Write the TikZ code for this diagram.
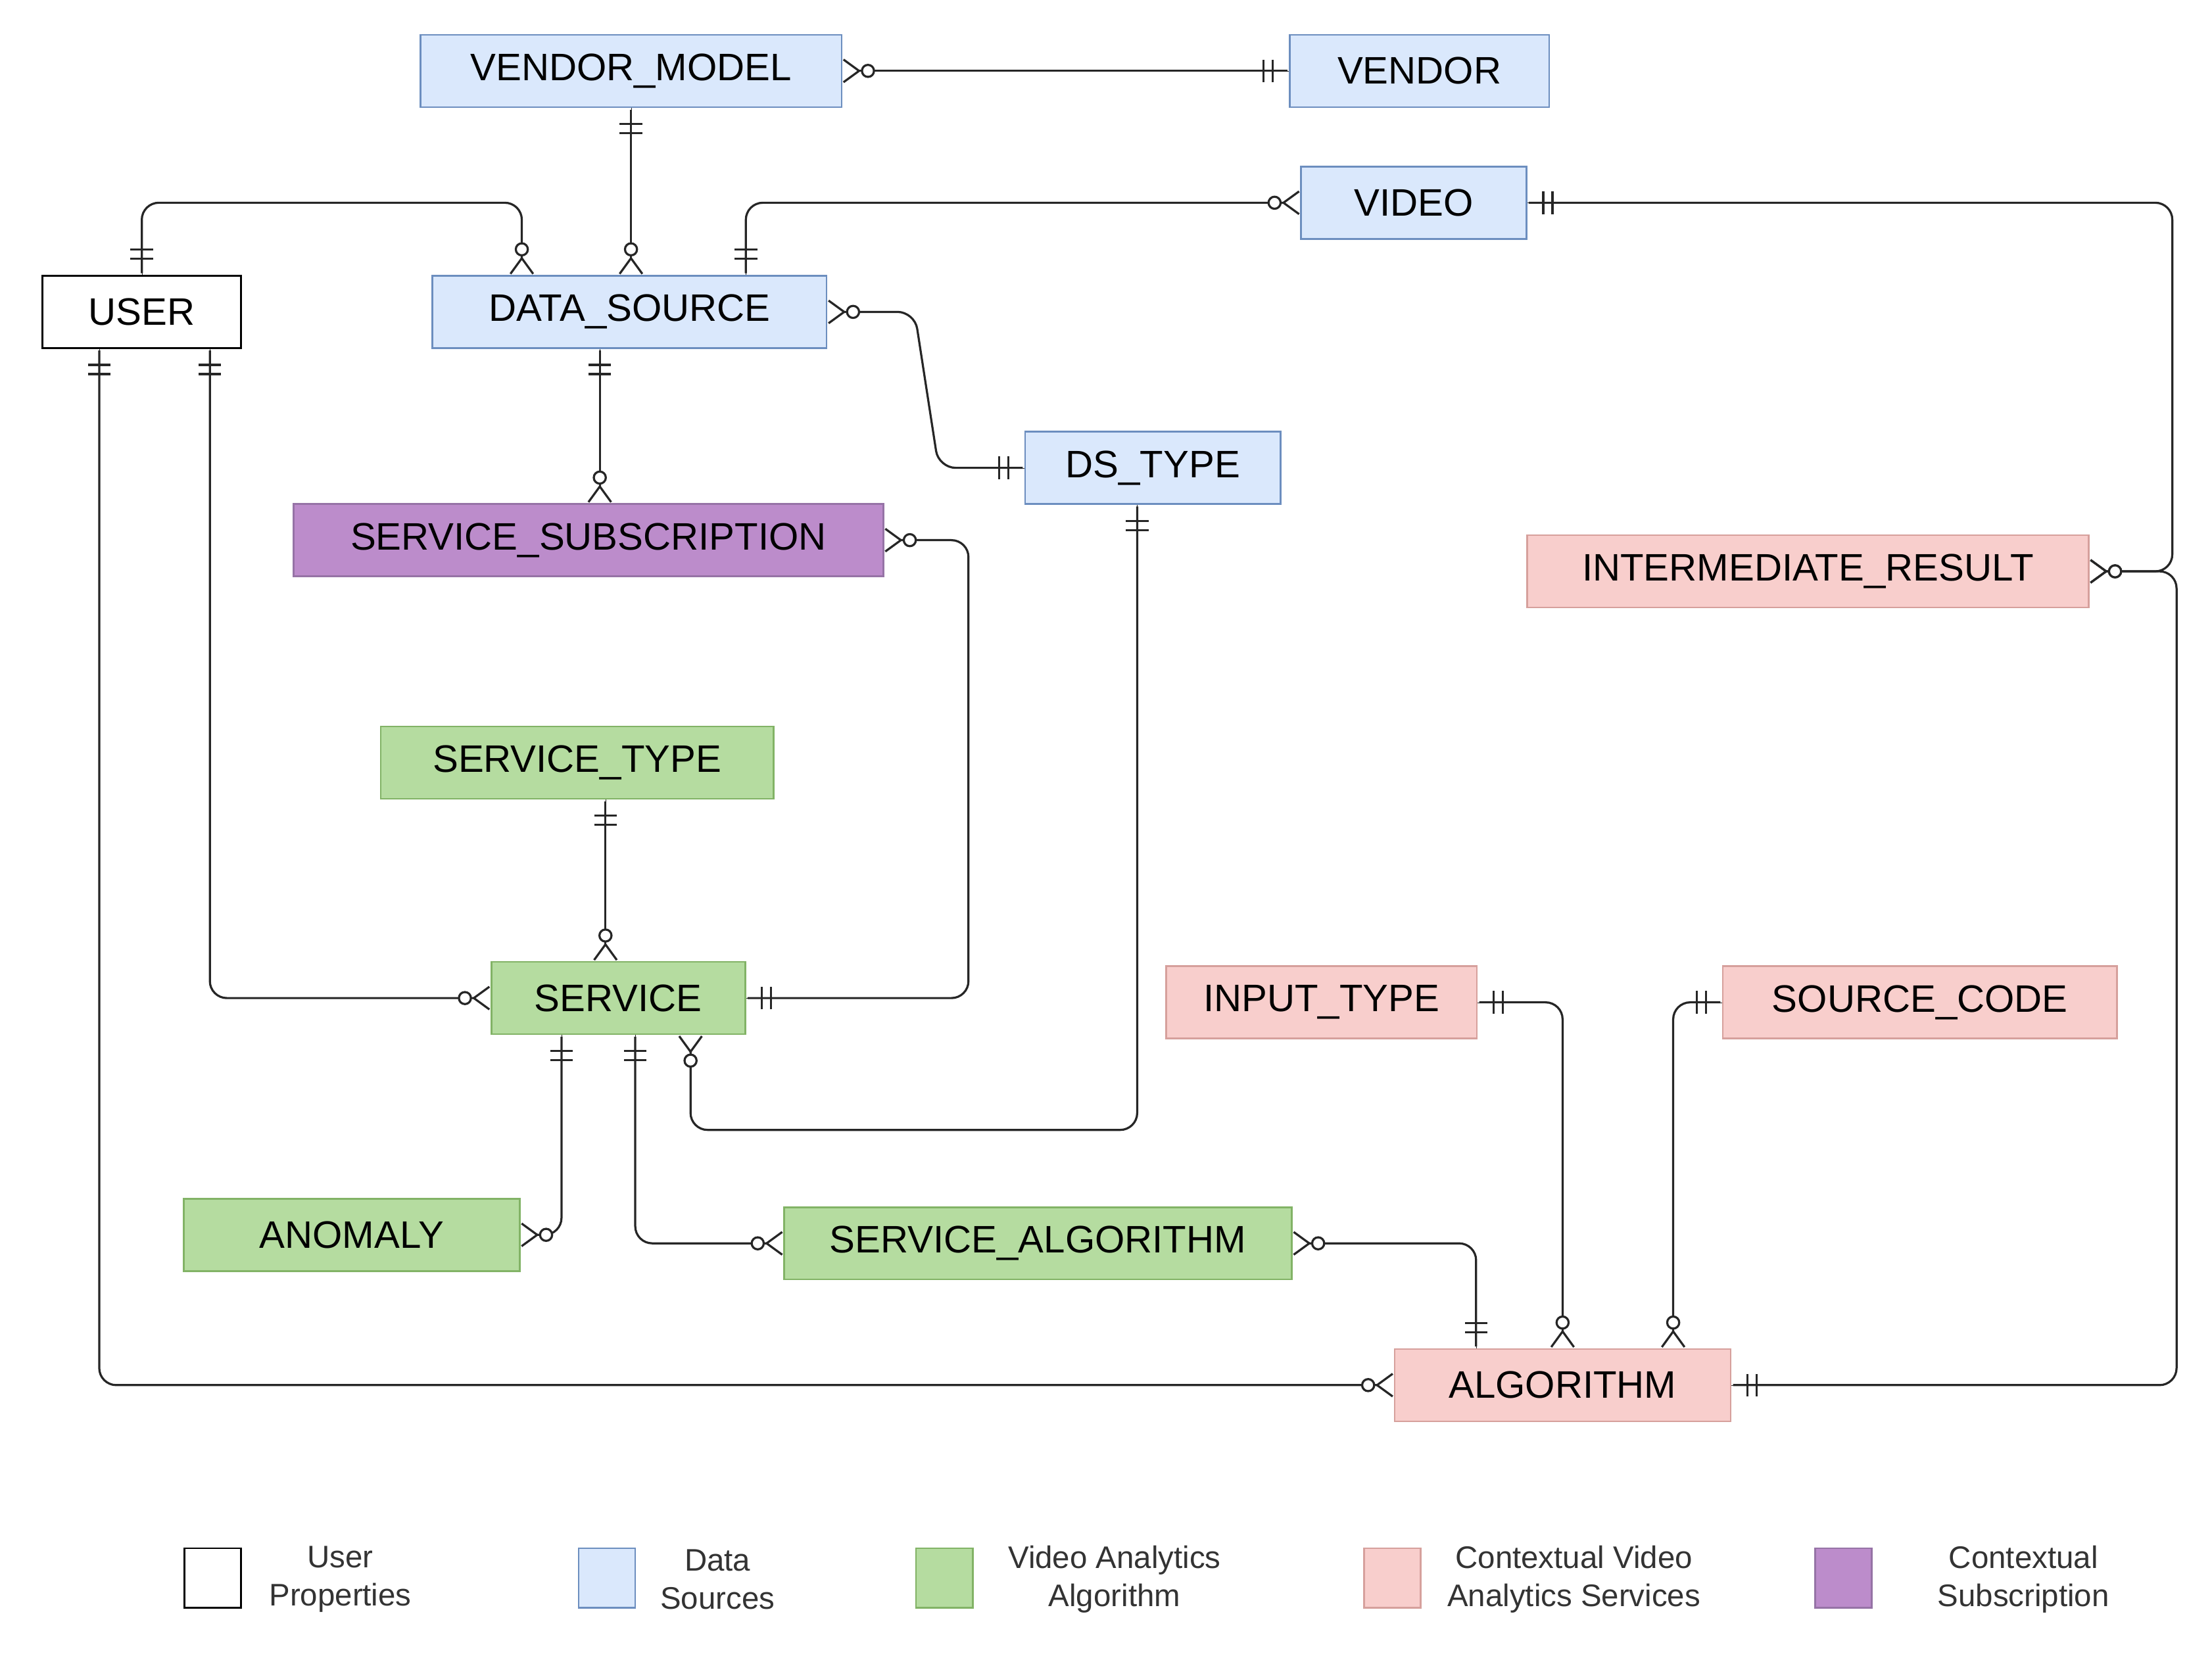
\documentclass[tikz,border=0pt]{standalone}
\usepackage{fontspec}
\setmainfont{Liberation Sans}
\usetikzlibrary{arrows.meta}
\definecolor{bfill}{HTML}{DAE8FC}\definecolor{bdraw}{HTML}{6C8EBF}
\definecolor{gfill}{HTML}{B5DCA0}\definecolor{gdraw}{HTML}{82B366}
\definecolor{pfill}{HTML}{F8CECC}\definecolor{pdraw}{HTML}{D6A09C}
\definecolor{ufill}{HTML}{BC8CCB}\definecolor{udraw}{HTML}{9673A6}
\begin{document}
\begin{tikzpicture}[x=1pt,y=-1pt,
 ent/.style={draw,line width=1.2pt,minimum height=51pt,inner sep=0pt,font=\fontsize{27}{30}\selectfont},
 blue/.style={ent,fill=bfill,draw=bdraw},
 green/.style={ent,fill=gfill,draw=gdraw},
 pink/.style={ent,fill=pfill,draw=pdraw},
 purp/.style={ent,fill=ufill,draw=udraw},
 wht/.style={ent,fill=white,draw=black},
 cn/.style={line width=1.5pt,draw=black!85,rounded corners=12pt},
 lg/.style={draw,line width=1.2pt,minimum width=40pt,minimum height=42pt,inner sep=0pt},
 lt/.style={align=center,font=\fontsize{22}{27}\selectfont,text=black!80},
 mo/.style={{Straight Barb[reversed,length=11pt,width=16pt]Circle[open,length=10pt,fill=white]}-{Bar[width=16pt,sep=5pt]Bar[width=16pt,sep=9pt]Bar[width=.01pt]}},
]
\useasboundingbox (0,0) rectangle (1560,1172);
\node[blue,minimum width=297pt] (vm) at (445,50) {VENDOR\_MODEL};
\node[blue,minimum width=183pt] (ven) at (1001,50) {VENDOR};
\node[blue,minimum width=159pt] (vid) at (997,143) {VIDEO};
\node[wht,minimum width=140pt] (usr) at (100,220) {USER};
\node[blue,minimum width=278pt] (ds) at (444,220) {DATA\_SOURCE};
\node[blue,minimum width=180pt] (dst) at (813,330) {DS\_TYPE};
\node[purp,minimum width=416pt] (ss) at (415,381) {SERVICE\_SUBSCRIPTION};
\node[pink,minimum width=396pt] (ir) at (1275,403) {INTERMEDIATE\_RESULT};
\node[green,minimum width=277pt] (st) at (407,538) {SERVICE\_TYPE};
\node[green,minimum width=179pt] (svc) at (436,704) {SERVICE};
\node[pink,minimum width=219pt] (it) at (932,707) {INPUT\_TYPE};
\node[pink,minimum width=278pt] (sc) at (1354,707) {SOURCE\_CODE};
\node[green,minimum width=237pt] (an) at (248,871) {ANOMALY};
\node[green,minimum width=358pt] (sa) at (732,877) {SERVICE\_ALGORITHM};
\node[pink,minimum width=237pt] (alg) at (1102,977) {ALGORITHM};

\draw[cn,mo] (vm.east) -- (ven.west);
\draw[cn,mo] (ds.north -| vm.south) -- (vm.south);
\draw[cn,mo] (ds.north -| 368,0) |- (234,143) -| (usr.north);
\draw[cn,mo] (vid.west) -| (ds.north -| 526,0);
\draw[cn,mo] (ir.east) -- (1532,403) |- (vid.east);
\draw[cn,mo] (ds.east) -- (645,220) -- (662,330) -- (dst.west);
\draw[cn,mo] (ss.north -| 423,0) -- (ds.south -| 423,0);
\draw[cn,mo] (ss.east) -| (683,704) -- (svc.east);
\draw[cn,mo] (svc.north -| 427,0) -- (st.south -| 427,0);
\draw[cn,mo] (svc.west) -| (usr.south -| 148,0);
\draw[cn,mo] (svc.south -| 487,0) |- (600,797) -| (dst.south -| 802,0);
\draw[cn,mo] (an.east) -| (svc.south -| 396,0);
\draw[cn,mo] (sa.west) -| (svc.south -| 448,0);
\draw[cn,mo] (sa.east) -| (alg.north -| 1041,0);
\draw[cn,mo] (alg.north -| 1102,0) |- (it.east);
\draw[cn,mo] (alg.north -| 1180,0) |- (sc.west);
\draw[cn,mo] (alg.west) -| (usr.south -| 70,0);
\draw[cn,mo] (ir.east) -- (1535,403) |- (alg.east);

\node[lg,fill=white] (l1) at (150,1113) {};
\node[lt] (t1) at (240,1114) {User\\Properties};
\node[lg,fill=bfill,draw=bdraw] (l2) at (428,1113) {};
\node[lt] (t2) at (506,1114) {Data\\Sources};
\node[lg,fill=gfill,draw=gdraw] (l3) at (666,1113) {};
\node[lt] (t3) at (786,1114) {Video Analytics\\Algorithm};
\node[lg,fill=pfill,draw=pdraw] (l4) at (982,1113) {};
\node[lt] (t4) at (1110,1114) {Contextual Video\\Analytics Services};
\node[lg,fill=ufill,draw=udraw] (l5) at (1300,1113) {};
\node[lt] (t5) at (1427,1114) {Contextual\\Subscription};
\end{tikzpicture}
\end{document}
